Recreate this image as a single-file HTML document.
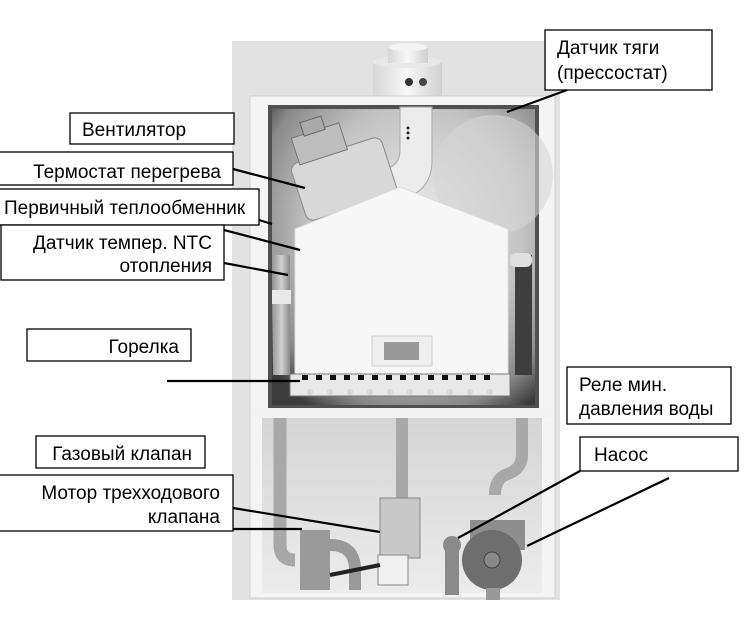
<!DOCTYPE html>
<html><head><meta charset="utf-8"><style>
html,body{margin:0;padding:0;background:#fff;}
svg{display:block}
text{font-family:"Liberation Sans",Arial,sans-serif;font-size:19px;fill:#000}
</style></head><body>
<svg width="749" height="625" viewBox="0 0 749 625" xmlns="http://www.w3.org/2000/svg">
<defs>
<radialGradient id="ch" cx="0.55" cy="0.4" r="0.72">
<stop offset="0" stop-color="#ececec"/><stop offset="0.55" stop-color="#c4c4c4"/><stop offset="0.85" stop-color="#8a8a8a"/><stop offset="1" stop-color="#3c3c3c"/>
</radialGradient>
<linearGradient id="low" x1="0" y1="0" x2="0" y2="1">
<stop offset="0" stop-color="#d4d4d4"/><stop offset="1" stop-color="#ececec"/>
</linearGradient>
<linearGradient id="pipe" x1="0" x2="1"><stop offset="0" stop-color="#9a9a9a"/><stop offset="0.5" stop-color="#cfcfcf"/><stop offset="1" stop-color="#8a8a8a"/></linearGradient>
<linearGradient id="flue" x1="0" x2="1"><stop offset="0" stop-color="#d8d8d8"/><stop offset="0.5" stop-color="#f6f6f6"/><stop offset="1" stop-color="#d0d0d0"/></linearGradient>
</defs>
<rect x="232" y="41" width="328" height="559" fill="#e2e2e2"/>
<!-- flue -->
<rect x="373" y="62" width="69" height="35" fill="url(#flue)"/>
<ellipse cx="407" cy="62" rx="34" ry="6" fill="#e8e8e8"/>
<rect x="388" y="47" width="40" height="16" fill="url(#flue)"/>
<ellipse cx="408" cy="47" rx="20" ry="4" fill="#f2f2f2"/>
<circle cx="409" cy="82" r="4" fill="#333"/><circle cx="423" cy="82" r="4" fill="#444"/>
<rect x="250" y="96" width="305" height="502" fill="#f4f4f4" stroke="#cfcfcf"/>
<rect x="270" y="107" width="267" height="300" fill="url(#ch)"/>
<rect x="270" y="107" width="267" height="300" fill="none" stroke="#505050" stroke-width="4"/>
<circle cx="493" cy="175" r="60" fill="#d6d6d6" opacity="0.6"/>
<path d="M400 107 L432 107 L432 160 Q432 195 395 200 L380 200 L380 170 Q400 168 400 150 Z" fill="#ececec" stroke="#aaa"/>
<circle cx="408" cy="128" r="1.5" fill="#222"/><circle cx="408" cy="133" r="1.5" fill="#222"/><circle cx="408" cy="138" r="1.5" fill="#222"/>
<g transform="rotate(-18 340 175)">
<rect x="295" y="150" width="95" height="60" rx="8" fill="#d8d8d8" stroke="#888"/>
<rect x="305" y="125" width="50" height="28" fill="#bdbdbd" stroke="#777"/>
<rect x="318" y="113" width="22" height="14" fill="#aaa" stroke="#666"/>
</g>
<rect x="273" y="255" width="17" height="120" fill="url(#pipe)"/>
<rect x="272" y="290" width="19" height="14" fill="#e8e8e8"/>
<rect x="515" y="255" width="17" height="120" fill="#3e3e3e"/>
<rect x="510" y="253" width="22" height="14" rx="6" fill="#e0e0e0"/>
<path d="M295 229 L400 187 L508 229 L508 374 L295 374 Z" fill="#f7f7f7" stroke="#ddd"/>
<rect x="372" y="336" width="60" height="30" fill="#eee" stroke="#ccc"/>
<rect x="384" y="342" width="35" height="18" fill="#999"/>
<rect x="290" y="374" width="220" height="22" fill="#e8e8e8" stroke="#777"/>
<g fill="#111">
<rect x="302" y="375" width="6" height="5"/><rect x="316" y="375" width="6" height="5"/><rect x="330" y="375" width="6" height="5"/><rect x="344" y="375" width="6" height="5"/><rect x="358" y="375" width="6" height="5"/><rect x="372" y="375" width="6" height="5"/><rect x="386" y="375" width="6" height="5"/><rect x="400" y="375" width="6" height="5"/><rect x="414" y="375" width="6" height="5"/><rect x="428" y="375" width="6" height="5"/><rect x="442" y="375" width="6" height="5"/><rect x="456" y="375" width="6" height="5"/><rect x="470" y="375" width="6" height="5"/><rect x="484" y="375" width="6" height="5"/>
</g>
<g fill="#d6d6d6">
<circle cx="310" cy="392" r="3"/><circle cx="330" cy="392" r="3"/><circle cx="350" cy="392" r="3"/><circle cx="370" cy="392" r="3"/><circle cx="390" cy="392" r="3"/><circle cx="410" cy="392" r="3"/><circle cx="430" cy="392" r="3"/><circle cx="450" cy="392" r="3"/><circle cx="470" cy="392" r="3"/><circle cx="490" cy="392" r="3"/>
</g>
<rect x="252" y="408" width="300" height="10" fill="#f2f2f2"/>
<rect x="262" y="418" width="280" height="175" fill="url(#low)"/>
<path d="M280 418 L280 545 Q280 560 295 560" fill="none" stroke="#a8a8a8" stroke-width="13"/>
<path d="M402 418 L402 500" fill="none" stroke="#a8a8a8" stroke-width="12"/>
<path d="M522 418 L522 455 Q522 470 505 475 Q495 480 495 495" fill="none" stroke="#a8a8a8" stroke-width="12"/>
<rect x="380" y="498" width="40" height="60" fill="#c8c8c8" stroke="#888"/>
<rect x="378" y="555" width="30" height="30" fill="#f0f0f0" stroke="#888"/>
<rect x="300" y="530" width="30" height="60" fill="#9a9a9a"/>
<path d="M330 545 Q355 545 355 570 L355 590" fill="none" stroke="#9a9a9a" stroke-width="12"/>
<path d="M330 575 L380 565" stroke="#222" stroke-width="4"/>
<rect x="470" y="520" width="55" height="30" fill="#8e8e8e"/>
<circle cx="492" cy="560" r="30" fill="#6e6e6e"/>
<circle cx="492" cy="560" r="8" fill="#888" stroke="#444"/>
<circle cx="452" cy="545" r="9" fill="#8a8a8a"/>
<rect x="445" y="550" width="14" height="45" fill="#8a8a8a"/>
<rect x="486" y="588" width="14" height="12" fill="#999"/>
<g fill="#fff" stroke="#000" stroke-width="1.3">
<rect x="545" y="30" width="167" height="60"/>
<rect x="70" y="113" width="164" height="31"/>
<rect x="-2" y="152" width="235" height="33"/>
<rect x="-2" y="189" width="261" height="36"/>
<rect x="1" y="225" width="223" height="55"/>
<rect x="27" y="329" width="164" height="32"/>
<rect x="567" y="367" width="164" height="57"/>
<rect x="36" y="436" width="169" height="32"/>
<rect x="580" y="437" width="158" height="34"/>
<rect x="-2" y="475" width="235" height="56"/>
</g>
<g stroke="#000" stroke-width="2.2" fill="none">
<line x1="567" y1="90" x2="507" y2="112"/>
<line x1="233" y1="169" x2="305" y2="188"/>
<line x1="259" y1="220" x2="272" y2="224"/>
<line x1="224" y1="230" x2="300" y2="250"/>
<line x1="224" y1="263" x2="288" y2="275"/>
<line x1="167" y1="381" x2="300" y2="381"/>
<line x1="233" y1="508" x2="380" y2="532"/>
<line x1="233" y1="529" x2="302" y2="529"/>
<line x1="580" y1="471" x2="458" y2="538"/>
<line x1="669" y1="478" x2="527" y2="546"/>
</g>
<text x="557" y="54">Датчик тяги</text>
<text x="557" y="79">(прессостат)</text>
<text x="82" y="136">Вентилятор</text>
<text x="221" y="178" text-anchor="end">Термостат перегрева</text>
<text x="4" y="214">Первичный теплообменник</text>
<text x="212" y="249" text-anchor="end">Датчик темпер. NTC</text>
<text x="212" y="272" text-anchor="end">отопления</text>
<text x="179" y="353" text-anchor="end">Горелка</text>
<text x="579" y="391">Реле мин.</text>
<text x="579" y="415">давления воды</text>
<text x="192" y="460" text-anchor="end">Газовый клапан</text>
<text x="594" y="461">Насос</text>
<text x="220" y="499" text-anchor="end">Мотор трехходового</text>
<text x="220" y="523" text-anchor="end">клапана</text>
</svg>
</body></html>
